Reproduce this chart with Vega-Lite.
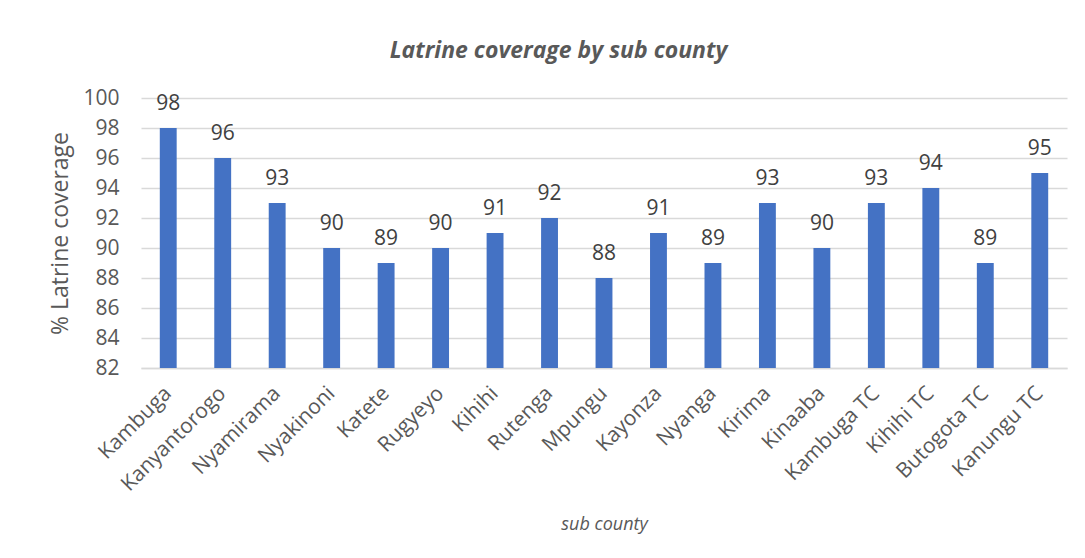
{
  "$schema": "https://vega.github.io/schema/vega-lite/v6.json",
  "autosize": "none",
  "width": 926,
  "height": 270,
  "padding": {"left": 141, "top": 98, "right": 18, "bottom": 190},
  "background": "white",
  "title": {
    "text": "Latrine coverage by sub county",
    "font": "Open Sans",
    "fontSize": 23,
    "fontWeight": "bold",
    "fontStyle": "italic",
    "color": "#595959",
    "anchor": "middle",
    "frame": "bounds",
    "offset": 24
  },
  "data": {
    "values": [
      {"sub": "Kambuga", "v": 98},
      {"sub": "Kanyantorogo", "v": 96},
      {"sub": "Nyamirama", "v": 93},
      {"sub": "Nyakinoni", "v": 90},
      {"sub": "Katete", "v": 89},
      {"sub": "Rugyeyo", "v": 90},
      {"sub": "Kihihi", "v": 91},
      {"sub": "Rutenga", "v": 92},
      {"sub": "Mpungu", "v": 88},
      {"sub": "Kayonza", "v": 91},
      {"sub": "Nyanga", "v": 89},
      {"sub": "Kirima", "v": 93},
      {"sub": "Kinaaba", "v": 90},
      {"sub": "Kambuga TC", "v": 93},
      {"sub": "Kihihi TC", "v": 94},
      {"sub": "Butogota TC", "v": 89},
      {"sub": "Kanungu TC", "v": 95}
    ]
  },
  "encoding": {
    "x": {
      "field": "sub",
      "type": "nominal",
      "sort": null,
      "scale": {"paddingInner": 0.69, "paddingOuter": 0.345},
      "axis": {
        "title": "sub county",
        "titleFont": "Open Sans",
        "titleFontSize": 18,
        "titleFontStyle": "italic",
        "titleFontWeight": "normal",
        "titleColor": "#595959",
        "titlePadding": 21,
        "labelAngle": -45,
        "labelAlign": "right",
        "labelBaseline": "middle",
        "labelFont": "Open Sans",
        "labelFontSize": 21,
        "labelColor": "#595959",
        "labelPadding": 22,
        "ticks": false,
        "domainColor": "#D9D9D9",
        "domainWidth": 1.5,
        "grid": false
      }
    },
    "y": {
      "field": "v",
      "type": "quantitative",
      "scale": {"domain": [82, 100], "zero": false},
      "axis": {
        "title": "% Latrine coverage",
        "titleFont": "Open Sans",
        "titleFontSize": 23,
        "titleFontWeight": "normal",
        "titleColor": "#595959",
        "titlePadding": 10,
        "values": [82, 84, 86, 88, 90, 92, 94, 96, 98, 100],
        "labelFont": "Open Sans",
        "labelFontSize": 21,
        "labelColor": "#595959",
        "labelPadding": 22,
        "ticks": false,
        "domain": false,
        "gridColor": "#D9D9D9",
        "gridWidth": 1.5
      }
    }
  },
  "layer": [
    {"mark": {"type": "bar", "color": "#4472C4", "clip": true}},
    {
      "mark": {
        "type": "text",
        "baseline": "alphabetic",
        "dy": -18,
        "font": "Open Sans",
        "fontSize": 21,
        "color": "#404040"
      },
      "encoding": {"text": {"field": "v", "type": "quantitative"}}
    }
  ],
  "config": {"view": {"stroke": null}}
}
